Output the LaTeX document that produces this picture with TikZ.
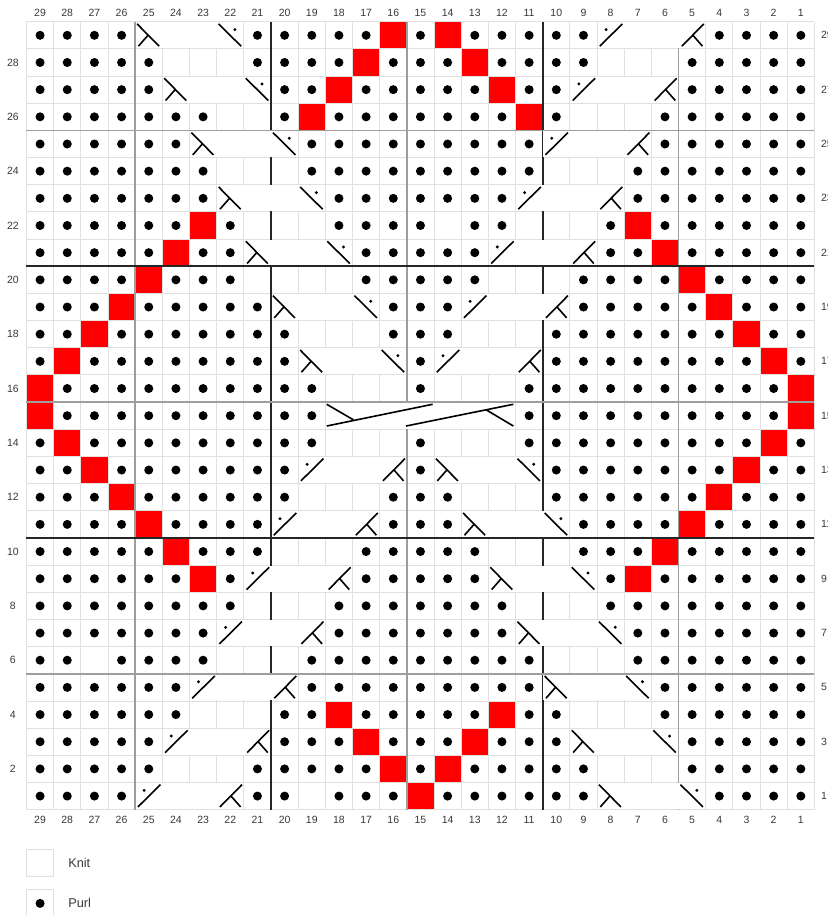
\documentclass[tikz,border=0pt]{standalone}
\usepackage{fontspec}
\setmainfont{Liberation Sans}
\usepackage{tikz}
\definecolor{contraste}{RGB}{255,0,0}
\definecolor{ligne}{gray}{0.88}
\definecolor{repere}{gray}{0.62}
\definecolor{texte}{gray}{0.22}

% symboles des torsades (une case = une unité)
\tikzset{
  trait/.style={line width=1.6pt, black},
  croixG/.pic={\draw[trait] (0.07,0.92) -- (0.88,0.1) (0.12,0.1) -- (0.48,0.51);},
  croixGp/.pic={\draw[trait] (0.07,0.92) -- (0.9,0.1); \fill (0.67,0.71) circle[radius=0.06];},
  croixDp/.pic={\draw[trait] (0.1,0.1) -- (0.93,0.92); \fill (0.33,0.71) circle[radius=0.06];},
  croixD/.pic={\draw[trait] (0.12,0.1) -- (0.93,0.92) (0.52,0.51) -- (0.88,0.1);}
}

% un rang : p = envers, k = endroit, r = contraste, c = torsade (mailles 29 -> 1)
\makeatletter
\newcount\rg@col
\newcommand\rangee[2]{\def\rg@y{#1}\rg@col=0 \rg@lire#2\@nil}
\def\rg@lire#1{\ifx#1\@nil\else\rg@maille#1\advance\rg@col by 1 \expandafter\rg@lire\fi}
\def\rg@maille#1{%
  \edef\rg@x{\the\rg@col}%
  \if#1p\fill[envers] (\rg@x+0.5,\rg@y-0.5) circle[radius=0.166];\fi
  \if#1r\fill[contraste] (\rg@x,\rg@y-1) rectangle ++(1,1);\fi}
\makeatother

% torsades sur 4 mailles (rang, maille de gauche)
\newcommand\torsadeDroite[2]{%
  \fill[white] ({29.02-#2},{#1-0.98}) rectangle ({32.98-#2},{#1-0.02});
  \pic at ({29-#2},{#1-1}) {croixG};
  \pic at ({32-#2},{#1-1}) {croixGp};}
\newcommand\torsadeGauche[2]{%
  \fill[white] ({29.02-#2},{#1-0.98}) rectangle ({32.98-#2},{#1-0.02});
  \pic at ({29-#2},{#1-1}) {croixDp};
  \pic at ({32-#2},{#1-1}) {croixD};}

\begin{document}
\begin{tikzpicture}[
  x=27.17pt, y=27.17pt,
  envers/.style={fill=black},
  quadrillage/.style={draw=ligne, line width=0.9pt},
  repereGris/.style={draw=repere, line width=1.8pt},
  repereNoir/.style={draw=black!85, line width=1.8pt},
  numero/.style={font=\fontsize{10.5}{12}\selectfont, text=texte, inner sep=0pt},
  legende/.style={font=\fontsize{12.75}{15}\selectfont, text=texte, inner sep=0pt, anchor=west},
  caseLegende/.style={draw=ligne, line width=0.9pt, minimum size=27.17pt, inner sep=0pt}
]
  \useasboundingbox (-0.975,-3.877) rectangle (29.497,29.80);
  \fill[white] (-0.975,-3.877) rectangle (29.497,29.80);

  % Mailles envers et contraste
  \rangee{29}{pppp ccccp ppppr prppp ppccc cpppp}
  \rangee{28}{pppp pkkkp ppprp pprpp ppkkk ppppp}
  \rangee{27}{pppp pcccc pprpp ppprp pcccc ppppp}
  \rangee{26}{pppp pppkk prppp ppppr pkkkp ppppp}
  \rangee{25}{pppp ppccc cpppp ppppp ccccp ppppp}
  \rangee{24}{pppp pppkk kpppp ppppp kkkpp ppppp}
  \rangee{23}{pppp pppcc ccppp ppppc cccpp ppppp}
  \rangee{22}{pppp pprpk kkppp pkppk kkprp ppppp}
  \rangee{21}{pppp prppc cccpp pppcc ccppr ppppp}
  \rangee{20}{pppp rpppk kkkpp pppkk kpppp rpppp}
  \rangee{19}{pppr ppppp ccccp ppccc cpppp prppp}
  \rangee{18}{pprp ppppp pkkkp ppkkk ppppp pprpp}
  \rangee{17}{prpp ppppp pcccc pcccc ppppp ppprp}
  \rangee{16}{rppp ppppp ppkkk pkkkp ppppp ppppr}
  \rangee{15}{rppp ppppp ppccc ccccp ppppp ppppr}
  \rangee{14}{prpp ppppp ppkkk pkkkp ppppp ppprp}
  \rangee{13}{pprp ppppp pcccc pcccc ppppp pprpp}
  \rangee{12}{pppr ppppp pkkkp ppkkk ppppp prppp}
  \rangee{11}{pppp rpppp ccccp ppccc cpppp rpppp}
  \rangee{10}{pppp prppp kkkpp pppkk kpppr ppppp}
  \rangee{9}{pppp pprpc cccpp pppcc ccprp ppppp}
  \rangee{8}{pppp ppppk kkppp ppppk kkppp ppppp}
  \rangee{7}{pppp pppcc ccppp ppppc cccpp ppppp}
  \rangee{6}{ppkp pppkk kpppp ppppp kkkpp ppppp}
  \rangee{5}{pppp ppccc cpppp ppppp ccccp ppppp}
  \rangee{4}{pppp ppkkk pprpp ppprp pkkkp ppppp}
  \rangee{3}{pppp pcccc ppprp pprpp pcccc ppppp}
  \rangee{2}{pppp pkkkp ppppr prppp ppkkk ppppp}
  \rangee{1}{pppp ccccp pkppp rpppp ppccc cpppp}

  % Quadrillage et repères verticaux
  \draw[quadrillage, step=1] (0,0) grid (29,29);
  \foreach \x in {4,14,24} \draw[repereGris] (\x,0) -- (\x,29);
  \foreach \x in {9,19} \draw[repereNoir] (\x,0) -- (\x,29);

  % Torsades
  \foreach \r/\a/\b in {29/25/8, 27/24/9, 25/23/10, 23/22/11, 21/21/12, 19/20/13, 17/19/14}
    {\torsadeDroite{\r}{\a} \torsadeGauche{\r}{\b}}
  \foreach \r/\a/\b in {13/19/14, 11/20/13, 9/21/12, 7/22/11, 5/23/10, 3/24/9, 1/25/8}
    {\torsadeGauche{\r}{\a} \torsadeDroite{\r}{\b}}

  % Grande torsade centrale (rang 15)
  \fill[white] (11.02,14.02) rectangle (17.98,14.98);
  \draw[trait] (11.05,14.92) -- (12.03,14.35) (11.05,14.12) -- (14.95,14.92)
    (13.97,14.12) -- (17.92,14.92) (16.91,14.72) -- (17.92,14.12);

  % Repères horizontaux
  \foreach \y in {5,15,25} \draw[repereGris] (0,\y) -- (29,\y);
  \foreach \y in {10,20} \draw[repereNoir] (0,\y) -- (29,\y);

  % Numéros de mailles et de rangs
  \foreach \k in {1,...,29} {
    \node[numero] (haut\k) at ({29.5-\k},29.32) {\k};
    \node[numero] (bas\k) at ({29.5-\k},-0.38) {\k};
  }
  \foreach \r in {2,4,...,28} \node[numero] (rangG\r) at (-0.5,{\r-0.5}) {\r};
  \foreach \r in {1,3,...,29} \node[numero, anchor=west] (rangD\r) at (29.24,{\r-0.5}) {\r};

  % Légende
  \node[caseLegende] (endroit) at (0.5,-1.965) {};
  \node[legende] (endroitTxt) at (1.53,-1.95) {Knit};
  \node[caseLegende] (envers) at (0.5,-3.45) {};
  \fill[envers] (envers.center) circle[radius=0.166];
  \node[legende] (enversTxt) at (1.53,-3.43) {Purl};

\end{tikzpicture}
\end{document}
